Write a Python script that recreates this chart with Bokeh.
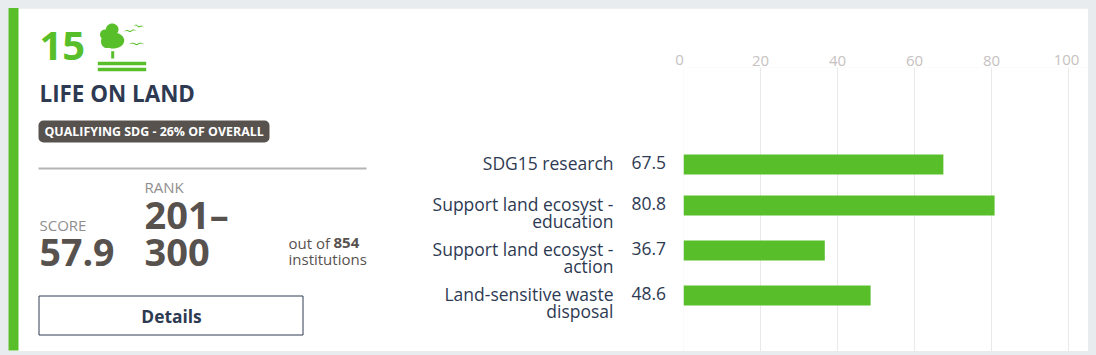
import math
from bokeh.plotting import figure
from bokeh.models import Range1d, FixedTicker
from bokeh.core.properties import value
from bokeh.embed import file_html
from bokeh.resources import INLINE

# ---- data
categories = ["SDG15 research", "Support land ecosyst -\neducation",
              "Support land ecosyst -\naction", "Land-sensitive waste\ndisposal"]
scores = [67.5, 80.8, 36.7, 48.6]
tick_values = [0, 20, 40, 60, 80, 100]
goal_number = "15"
goal_name = "LIFE ON LAND"
badge_text = "QUALIFYING SDG - 26% OF OVERALL"
overall_score = "57.9"
rank_lines = ["201–", "300"]
institutions = "854"

# ---- layout / style
FONT = "Open Sans"
GREEN = "#58bf2b"
NAVY = "#2e3a52"
DARK = "#58524f"
GREY = "#908d8d"
TICK = "#c6c2c1"
ORG = 8
ZERO_X = 684                         # page px of value 0
PX = 3.85                            # page px per value unit
FRAME_L, FRAME_T = 683, 67           # page px of the plot frame's corner
row_centres = [165, 206, 251, 296]   # page px, rows are unevenly spaced by wrapped labels
BASE = 0.38                          # the glyph's alphabetic baseline falls this many em low


def X(px):
    return (px - ZERO_X) / PX


W, H = 1081, 343
# the y range is in page pixels, so the panel beside the chart can share the figure's scales
p = figure(width=W, height=H, output_backend="svg", toolbar_location=None,
           x_range=Range1d(X(FRAME_L + 1), X(1090)), y_range=Range1d(352, FRAME_T + 1),
           x_axis_location="above", min_border_left=FRAME_L - ORG, min_border_right=0,
           min_border_top=FRAME_T - ORG, min_border_bottom=0)
p.outline_line_color = None
p.yaxis.visible = False
p.ygrid.visible = False
p.xgrid.grid_line_color = "#e9e9e9"
p.xgrid.ticker = FixedTicker(ticks=tick_values)
ax = p.xaxis[0]
ax.ticker = FixedTicker(ticks=tick_values)
ax.axis_line_color = None
ax.major_tick_line_color = None
ax.minor_tick_line_color = None
ax.major_tick_out = 2
ax.major_label_text_font = FONT
ax.major_label_text_font_size = "15px"
ax.major_label_text_color = TICK
ax.major_label_standoff = 0
ax.major_label_overrides = {0: "", 100: ""}

p.hbar(y=row_centres, left=0, right=scores, height=20, fill_color=GREEN, line_color=None)


def text(x, y, s, size, color, weight="normal", align="left"):
    p.text(x=[X(x)], y=[y - BASE * size], text=[s], text_font=value(FONT),
           text_font_size=f"{size}px", text_color=color, text_font_style=weight,
           text_align=align, text_baseline="alphabetic", level="overlay")


def box(l, t, r, b, fill, line=None, lw=1, radius=0):
    p.quad(left=[X(l)], right=[X(r)], top=[t], bottom=[b], fill_color=fill,
           fill_alpha=1 if fill else 0, line_color=line, line_width=lw,
           border_radius=radius, level="annotation")


def poly(pts, color=GREEN):
    p.patch(x=[X(a) for a, _ in pts], y=[b for _, b in pts], fill_color=color,
            line_color=None, level="annotation")


def blob(cx, cy, rx, ry):
    poly([(cx + rx * math.cos(t / 20 * math.pi), cy + ry * math.sin(t / 20 * math.pi))
          for t in range(40)])


def bird(x0, y0, w, h, tilt):
    shape = [(0, .9), (.25, 0), (.5, .7), (.75, 0), (1, .9), (.75, .55), (.5, 1.35), (.25, .55)]
    poly([(x0 + w * a, y0 + h * b + tilt * a) for a, b in shape])


# end tick labels sit inside their gridlines in the reference
text(680, 66.5, str(tick_values[0]), 15, TICK, align="center")
text(1067, 66.5, str(tick_values[-1]), 15, TICK, align="center")

# left panel
box(9, 8, 19, 351, GREEN)
text(40, 62, goal_number, 40, GREEN, "bold")
blob(112.7, 30, 6.3, 6)
blob(105.5, 35, 5, 5)
blob(113.5, 41, 11.2, 8)
blob(107, 42, 5.5, 6.5)
box(111.7, 51.7, 114.7, 59, GREEN)
box(98.3, 62.3, 146.7, 65.7, GREEN)
box(98.3, 68.3, 146.7, 71.7, GREEN)
bird(124, 30.5, 13, 2, -1)
bird(134, 24.5, 10.5, 1.8, 2)
bird(129, 43, 16, 2, 0)

text(40, 103, goal_name, 22.4, NAVY, "bold")
box(39, 121, 270, 143, DARK, radius=5)
text(45, 137, badge_text, 12.4, "#ffffff", "bold")
box(39, 168, 367, 170, "#b5b3b4")

text(145, 193, "RANK", 15, GREY)
text(145, 229, rank_lines[0], 38, DARK, "bold")
text(145, 267, rank_lines[1], 38, DARK, "bold")
text(40, 231, "SCORE", 15, GREY)
text(40, 267, overall_score, 37.5, DARK, "bold")
text(289, 249, "out of ", 15, DARK)
text(334, 249, institutions, 15, DARK, "bold")
text(289, 265, "institutions", 15, DARK)
box(39.5, 296.5, 303.5, 335.5, None, NAVY, 1)
text(172, 323, "Details", 17.4, NAVY, "bold", "center")

# row labels and values
for cat, val, yc in zip(categories, scores, row_centres):
    for i, line in enumerate(cat.split("\n")):
        text(614, yc + 5 + 17 * i, line, 17.5, NAVY, align="right")
    text(632, yc + 5, f"{val:.1f}", 17.5, NAVY)

html = file_html(p, INLINE)
css = "<style>html,body{background:#e8ecef !important;overflow:hidden}body{margin:8px !important}</style></head>"
html = html.replace("</head>", css, 1)
open("out.html", "w").write(html)
